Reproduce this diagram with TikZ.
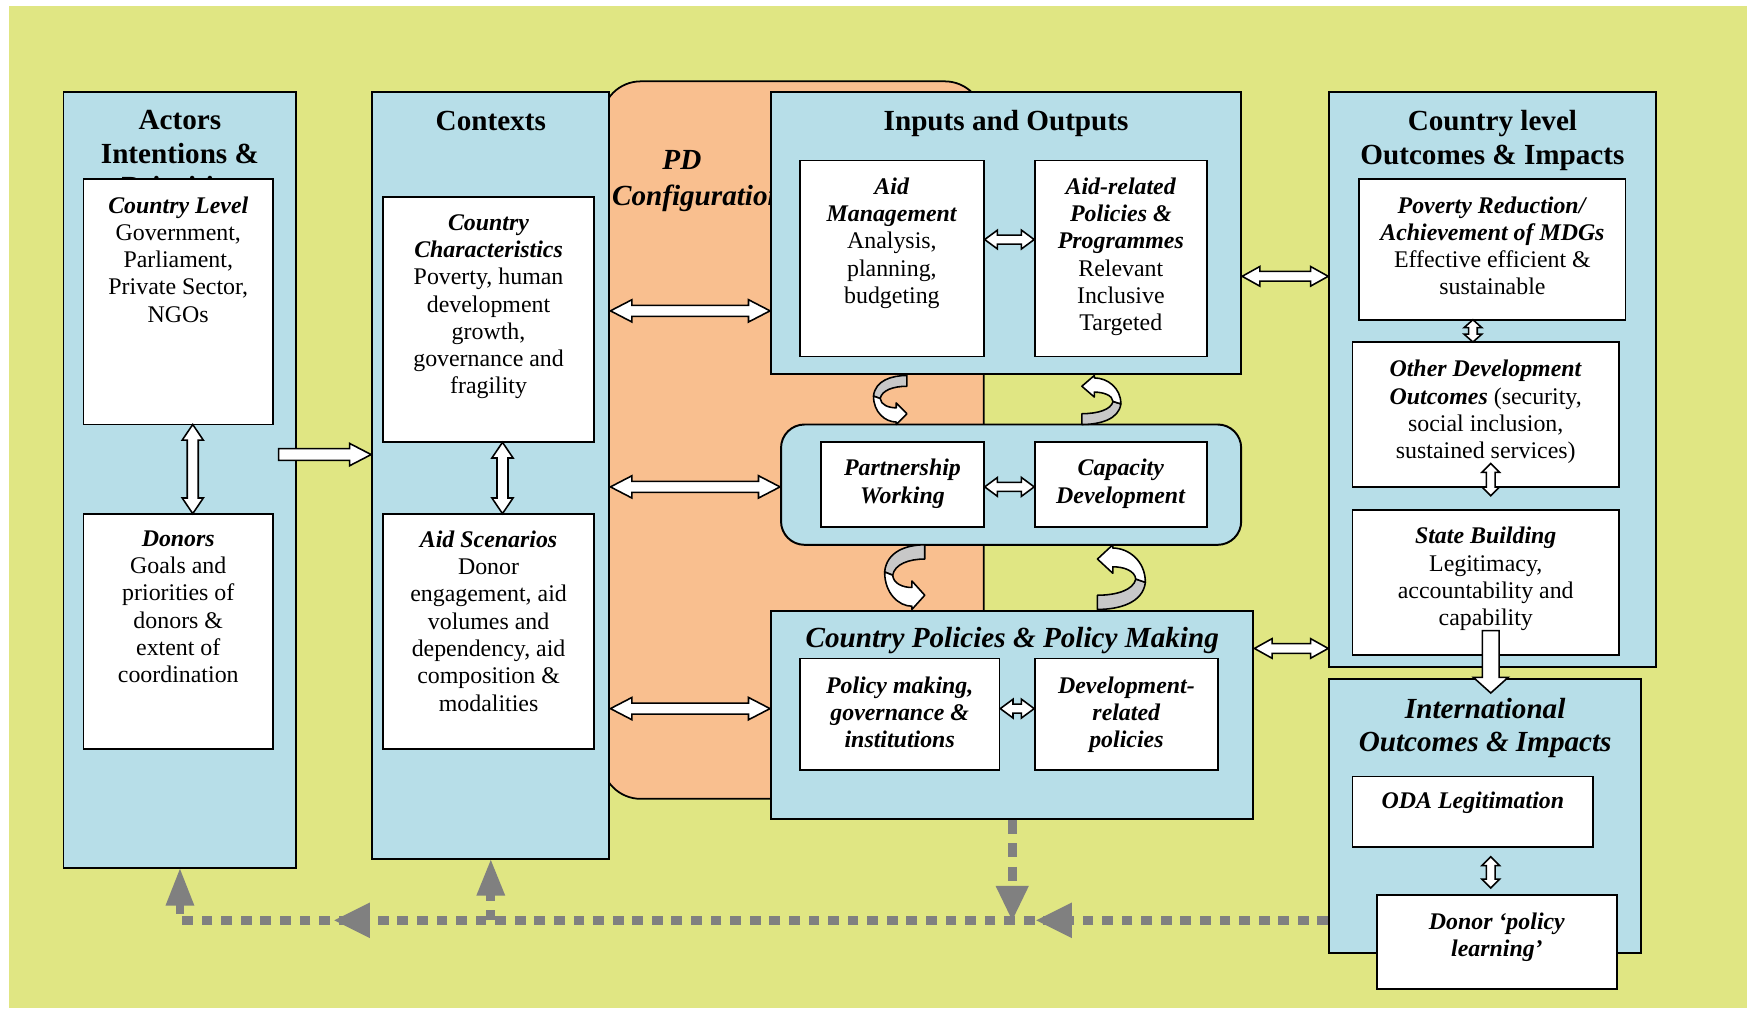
\documentclass[tikz,border=0pt]{standalone}
\usepackage{fontspec}
\setmainfont{Liberation Serif}
\usetikzlibrary{fit,calc}
\definecolor{bgy}{HTML}{E0E683}
\definecolor{lblue}{HTML}{B7DEE8}
\definecolor{pdor}{HTML}{F9BF8F}
\definecolor{fbgray}{HTML}{808080}
\definecolor{ribgray}{HTML}{C8C8C8}
\newcommand\bitx[1]{\textbf{\textit{#1}}}
% block double arrow, horizontal: #1 left point, #2 right point, #3 shaft half, #4 head half, #5 head length
\newcommand\dblH[5]{\draw[blk] let \p1=(#1), \p2=(#2) in
  (\x1,\y1) -- (\x1+#5,\y1+#4) -- (\x1+#5,\y1+#3) -- (\x2-#5,\y1+#3) -- (\x2-#5,\y1+#4) -- (\x2,\y1)
  -- (\x2-#5,\y1-#4) -- (\x2-#5,\y1-#3) -- (\x1+#5,\y1-#3) -- (\x1+#5,\y1-#4) -- cycle;}
% vertical: #1 top point, #2 bottom point
\newcommand\dblV[5]{\draw[blk] let \p1=(#1), \p2=(#2) in
  (\x1,\y1) -- (\x1+#4,\y1-#5) -- (\x1+#3,\y1-#5) -- (\x1+#3,\y2+#5) -- (\x1+#4,\y2+#5) -- (\x1,\y2)
  -- (\x1-#4,\y2+#5) -- (\x1-#3,\y2+#5) -- (\x1-#3,\y1-#5) -- (\x1-#4,\y1-#5) -- cycle;}
% single, pointing right: #1 tail, #2 tip
\newcommand\sglR[5]{\draw[blk] let \p1=(#1), \p2=(#2) in
  (\x1,\y1+#3) -- (\x2-#5,\y1+#3) -- (\x2-#5,\y1+#4) -- (\x2,\y1) -- (\x2-#5,\y1-#4) -- (\x2-#5,\y1-#3) -- (\x1,\y1-#3) -- cycle;}
% single, pointing down: #1 tail (top), #2 tip (bottom)
\newcommand\sglD[5]{\draw[blk] let \p1=(#1), \p2=(#2) in
  (\x1-#3,\y1) -- (\x1-#3,\y2+#5) -- (\x1-#4,\y2+#5) -- (\x1,\y2) -- (\x1+#4,\y2+#5) -- (\x1+#3,\y2+#5) -- (\x1+#3,\y1) -- cycle;}
% curled ribbon arrow in a unit box
\newcommand\curl[4]{\begin{scope}[shift={(#1,#2)}, xscale=#3, yscale=#4]
  \filldraw[fill=ribgray, draw=black, line width=0.8pt, line join=round] (1,0) .. controls (0.55,0) and (0.05,0.1) .. (0,0.42) -- (0.2,0.47) .. controls (0.25,0.3) and (0.6,0.22) .. (1,0.22) -- cycle;
  \filldraw[fill=white, draw=black, line width=0.8pt, line join=round] (0,0.42) .. controls (0,0.75) and (0.35,0.95) .. (0.68,0.95) -- (0.68,1) -- (1,0.78) -- (0.68,0.56) -- (0.68,0.66) .. controls (0.45,0.66) and (0.22,0.6) .. (0.2,0.47) -- cycle;
\end{scope}}
\begin{document}
\begin{tikzpicture}[x=0.02cm, y=-0.02cm,
  outer/.style={draw=black, line width=1pt, fill=lblue, inner sep=0pt},
  wbox/.style={draw=black, line width=0.9pt, fill=white, inner sep=0pt},
  body/.style={align=center, inner sep=0pt, anchor=north, font=\fontsize{12.2}{13.95}\selectfont},
  ttl/.style={align=center, inner sep=0pt, anchor=north, font=\fontsize{14.9}{17}\selectfont\bfseries},
  blk/.style={draw=black, fill=white, line width=0.8pt, line join=miter},
  fb/.style={draw=fbgray, line width=4.5pt, dash pattern=on 5.5pt off 4.5pt},
  tri/.style={fill=fbgray}]
\useasboundingbox (0,0) rectangle (1568,905);
\fill[white] (0,0) rectangle (1568,905);
\fill[bgy] (8,5) rectangle (1568,905);

% PD configuration background
\node[draw=black, line width=0.9pt, fill=pdor, rounded corners=20pt, inner sep=0pt, fit={(540,73) (883,717)}] (pd) {};
\node[anchor=base, inner sep=0pt, font=\fontsize{14.9}{17}\selectfont\bfseries\itshape] (pdt1) at (612,152) {PD};
\node[anchor=base west, inner sep=0pt, font=\fontsize{14.9}{17}\selectfont\bfseries\itshape] (pdt2) at (549,184) {Configuration};

% outer boxes
\node[outer, fit={(57,83) (266,779)}] (act) {};
\node[ttl] (actt) at (act.north |- 0,99) {Actors\\Intentions \&\\Priorities};
\node[outer, fit={(334,83) (547,771)}] (ctx) {};
\node[ttl] (ctxt) at (ctx.north |- 0,99) {Contexts};
\node[outer, fit={(692,83) (1114,336)}] (io) {};
\node[ttl] (iot) at (io.north |- 0,99) {Inputs and Outputs};
\node[outer, rounded corners=12pt, fit={(701,381) (1114,489)}] (pp) {};
\node[outer, fit={(692,548) (1125,735)}] (cp) {};
\node[ttl, font=\fontsize{14.9}{17}\selectfont\bfseries\itshape] (cpt) at (cp.north |- 0,563) {Country Policies \& Policy Making};
\node[outer, fit={(1193,83) (1486,599)}] (cl) {};
\node[ttl] (clt) at (cl.north |- 0,99) {Country level\\Outcomes \& Impacts};
\node[outer, fit={(1193,609) (1473,855)}] (int) {};
\node[ttl, font=\fontsize{14.9}{17}\selectfont\bfseries\itshape] (intt) at (int.north |- 0,626) {International\\Outcomes \& Impacts};

% white boxes
\node[wbox, fit={(75,161) (245,381)}] (cly) {};
\node[body] at (cly.north |- 0,176) {\bitx{Country Level}\\Government,\\Parliament,\\Private Sector,\\NGOs};
\node[wbox, fit={(75,461) (245,672)}] (don) {};
\node[body] at (don.north |- 0,476) {\bitx{Donors}\\Goals and\\priorities of\\donors \&\\extent of\\coordination};
\node[wbox, fit={(344,177) (533,397)}] (cc) {};
\node[body] at (cc.north |- 0,192) {\bitx{Country}\\\bitx{Characteristics}\\Poverty, human\\development\\growth,\\governance and\\fragility};
\node[wbox, fit={(344,461) (533,672)}] (as) {};
\node[body] at (as.north |- 0,476) {\bitx{Aid Scenarios}\\Donor\\engagement, aid\\volumes and\\dependency, aid\\composition \&\\modalities};
\node[wbox, fit={(718,144) (883,320)}] (am) {};
\node[body] at (am.north |- 0,159) {\bitx{Aid}\\\bitx{Management}\\Analysis,\\planning,\\budgeting};
\node[wbox, fit={(929,144) (1083,320)}] (ar) {};
\node[body] at (ar.north |- 0,159) {\bitx{Aid-related}\\\bitx{Policies \&}\\\bitx{Programmes}\\Relevant\\Inclusive\\Targeted};
\node[wbox, fit={(737,397) (883,473)}] (pw) {};
\node[body] at (pw.north |- 0,412) {\bitx{Partnership}\\\bitx{Working}};
\node[wbox, fit={(929,397) (1083,473)}] (cd) {};
\node[body] at (cd.north |- 0,412) {\bitx{Capacity}\\\bitx{Development}};
\node[wbox, fit={(718,591) (897,691)}] (pm) {};
\node[body] at (pm.north |- 0,607) {\bitx{Policy making,}\\\bitx{governance \&}\\\bitx{institutions}};
\node[wbox, fit={(929,591) (1093,691)}] (dr) {};
\node[body] at (dr.north |- 0,607) {\bitx{Development-}\\\bitx{related}\\\bitx{policies}};
\node[wbox, fit={(1220,161) (1459,287)}] (pr) {};
\node[body] at (pr.north |- 0,176) {\bitx{Poverty Reduction/}\\\bitx{Achievement of MDGs}\\Effective efficient \&\\sustainable};
\node[wbox, fit={(1214,307) (1453,437)}] (od) {};
\node[body] at (od.north |- 0,323) {\bitx{Other Development}\\\bitx{Outcomes} (security,\\social inclusion,\\sustained services)};
\node[wbox, fit={(1214,458) (1453,588)}] (sb) {};
\node[body] at (sb.north |- 0,473) {\bitx{State Building}\\Legitimacy,\\accountability and\\capability};
\node[wbox, fit={(1214,697) (1430,760)}] (oda) {};
\node[body] at (oda.north |- 0,710) {\bitx{ODA Legitimation}};
\node[wbox, fit={(1236,803) (1451,888)}] (dpl) {};
\node[body] at (dpl.north |- 0,819) {\bitx{Donor ‘policy}\\\bitx{learning’}};

% block arrows
\dblV{173,381}{173,461}{2.8pt}{5.4pt}{8pt}
\dblV{451,397}{451,461}{2.8pt}{5.4pt}{8pt}
\sglR{250,408}{ctx.west |- 0,408}{3pt}{5.7pt}{11pt}
\dblH{ctx.east |- 0,279}{io.west |- 0,279}{2.8pt}{5.7pt}{11pt}
\dblH{ctx.east |- 0,437}{pp.west |- 0,437}{2.8pt}{5.7pt}{11pt}
\dblH{ctx.east |- 0,636}{cp.west |- 0,636}{2.8pt}{5.7pt}{11pt}
\dblH{am.east |- 0,215}{ar.west |- 0,215}{2.3pt}{4.8pt}{6.5pt}
\dblH{pw.east |- 0,437}{cd.west |- 0,437}{2.3pt}{4.8pt}{6.5pt}
\dblH{pm.east |- 0,636}{dr.west |- 0,636}{2.3pt}{4.8pt}{6.5pt}
\dblH{io.east |- 0,248}{cl.west |- 0,248}{2.5pt}{5pt}{9pt}
\dblH{cp.east |- 0,582}{cl.west |- 0,582}{2.5pt}{5pt}{9pt}
\dblV{1322,287}{1322,307}{2.2pt}{4.5pt}{4pt}
\dblV{1338,416}{1338,445}{2.2pt}{4.5pt}{4.5pt}
\dblV{1338,769}{1338,797}{2.2pt}{4.5pt}{4.5pt}
\sglD{1338,566}{1338,622}{4.3pt}{8.9pt}{8pt}

% curled arrows
\curl{784}{337}{30}{44}
\curl{1006}{381}{-35}{-44}
\curl{794}{489}{36}{58}
\curl{1028}{547}{-43}{-58}

% feedback dashed arrows
\coordinate (fbR) at (int.west |- 0,826);
\coordinate (fbL) at (act.south |- 0,826);
\draw[fb] (fbR) -- (fbL) -- ++(0,-16);
\fill[tri] (act.south) -- ++(-13,33) -- ++(26,0) -- cycle;
\draw[fb] (ctx.south |- 0,826) -- ++(0,-24);
\fill[tri] (ctx.south) -- ++(-13,32) -- ++(26,0) -- cycle;
\draw[fb, dash pattern=on 7pt off 5pt] (cp.south) -- (cp.south |- 0,797);
\fill[tri] (cp.south |- 0,826) -- ++(-15,-31) -- ++(30,0) -- cycle;
\fill[tri] (930,826) -- ++(32,-16) -- ++(0,32) -- cycle;
\fill[tri] (300,826) -- ++(32,-16) -- ++(0,32) -- cycle;
\end{tikzpicture}
\end{document}
